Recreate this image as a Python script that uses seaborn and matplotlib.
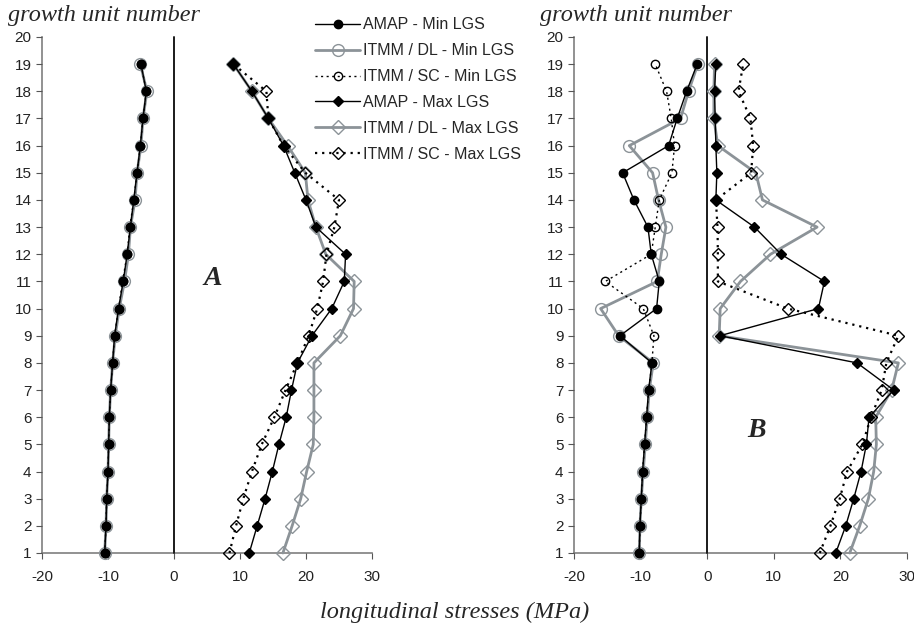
import numpy as np
import pandas as pd
import matplotlib
matplotlib.use("Agg")
import matplotlib.pyplot as plt
import seaborn as sns

# ---------------- data ----------------
rows = list(range(1, 20))  # growth unit number

# Panel A
A_amap_min = [-10.5, -10.3, -10.2, -10.0, -9.9, -9.8, -9.6, -9.3, -9.0, -8.4,
              -7.7, -7.1, -6.6, -6.1, -5.6, -5.1, -4.7, -4.2, -5.0]
A_dl_min = [-10.5, -10.3, -10.2, -10.0, -9.9, -9.8, -9.6, -9.3, -8.9, -8.3,
            -7.5, -6.9, -6.6, -5.9, -5.6, -5.0, -4.7, -4.1, -5.1]
A_sc_min = [-10.5, -10.3, -10.2, -10.0, -9.9, -9.8, -9.6, -9.3, -9.0, -8.4,
            -7.8, -7.1, -6.7, -6.1, -5.6, -5.1, -4.7, -4.2, -5.0]
A_amap_max = [11.4, 12.6, 13.8, 14.9, 15.9, 17.0, 17.8, 18.7, 20.9, 23.9,
              25.8, 26.0, 21.5, 20.0, 18.3, 16.6, 14.3, 11.8, 9.0]
A_dl_max = [16.5, 17.9, 19.2, 20.1, 21.1, 21.2, 21.2, 21.2, 25.2, 27.2,
            27.3, 23.0, 21.5, 20.3, 19.9, 17.2, 14.3, 11.8, 9.0]
A_sc_max = [8.4, 9.4, 10.5, 11.8, 13.3, 15.2, 16.9, 18.7, 20.4, 21.7,
            22.6, 23.1, 24.3, 25.0, 19.9, 16.6, 14.3, 14.0, 9.0]

# Panel B
B_amap_min = [-10.2, -10.1, -9.9, -9.7, -9.4, -9.1, -8.8, -8.3, -13.1, -7.6,
              -7.2, -8.4, -8.9, -11.0, -12.7, -5.8, -4.5, -3.1, -1.5]
B_dl_min = [-10.2, -10.1, -9.9, -9.6, -9.3, -9.0, -8.7, -8.1, -13.3, -16.0,
            -7.5, -6.9, -6.2, -7.3, -8.2, -11.7, -4.0, -2.8, -1.4]
B_sc_min = [-10.2, -10.1, -9.9, -9.7, -9.4, -9.1, -8.8, -8.3, -8.0, -9.6,
            -15.3, -8.4, -7.8, -7.2, -5.3, -4.9, -5.4, -6.1, -7.8]
B_amap_max = [19.3, 20.8, 22.0, 23.1, 23.9, 24.3, 28.0, 22.5, 1.9, 16.7,
              17.6, 11.1, 7.1, 1.3, 1.45, 1.3, 1.2, 1.1, 1.3]
B_dl_max = [21.4, 22.9, 24.2, 25.0, 25.4, 25.3, 27.7, 28.7, 1.8, 1.95,
            5.0, 9.5, 16.5, 8.3, 7.3, 1.6, 1.0, 1.0, 1.1]
B_sc_max = [16.9, 18.5, 19.9, 21.0, 23.3, 24.6, 26.2, 26.9, 28.7, 12.1,
            1.6, 1.6, 1.55, 1.3, 6.6, 6.9, 6.5, 4.7, 5.4]

labels = ["AMAP - Min LGS", "ITMM / DL - Min LGS", "ITMM / SC - Min LGS",
          "AMAP - Max LGS", "ITMM / DL - Max LGS", "ITMM / SC - Max LGS"]
x_ticks = [-20, -10, 0, 10, 20, 30]
y_ticks = list(range(1, 21))

# ---------------- style ----------------
sns.set_style("white")
plt.rcParams['font.family'] = ['Liberation Sans', 'DejaVu Sans']
plt.rcParams['axes.unicode_minus'] = False

GREY = "#8c9398"
styles = {
    "AMAP - Min LGS": dict(color="black", lw=1.0, ls="-", marker="o", ms=6,
                           mfc="black", mec="black", z=5),
    "ITMM / DL - Min LGS": dict(color=GREY, lw=2.0, ls="-", marker="o", ms=8.5,
                                mfc="none", mec=GREY, z=3),
    "ITMM / SC - Min LGS": dict(color="black", lw=1.0, ls=(0, (1.5, 2.5)), marker="o",
                                ms=6, mfc="none", mec="black", z=4),
    "AMAP - Max LGS": dict(color="black", lw=1.0, ls="-", marker="D", ms=5,
                           mfc="black", mec="black", z=5),
    "ITMM / DL - Max LGS": dict(color=GREY, lw=2.0, ls="-", marker="D", ms=7,
                                mfc="none", mec=GREY, z=3),
    "ITMM / SC - Max LGS": dict(color="black", lw=1.6, ls=(0, (1, 2.2)), marker="D",
                                ms=6, mfc="none", mec="black", z=4),
}

fig = plt.figure(figsize=(9.14, 6.32), dpi=100)
axA = fig.add_axes([42/914, 1-553/632, (372-42)/914, (553-37)/632])
axB = fig.add_axes([574/914, 1-553/632, (907-574)/914, (553-37)/632])

def draw(ax, series):
    for lab, vals in zip(labels, series):
        st = styles[lab]
        df = pd.DataFrame({"x": vals, "y": rows})
        sns.lineplot(data=df, x="x", y="y", orient="y", sort=False, estimator=None,
                     ax=ax, color=st["color"], linewidth=st["lw"], linestyle=st["ls"],
                     marker=st["marker"], markersize=st["ms"],
                     markerfacecolor=st["mfc"], markeredgecolor=st["mec"],
                     markeredgewidth=1.0, zorder=st["z"], label=lab)
    if ax.get_legend() is not None:
        ax.get_legend().remove()
    ax.axvline(0, color="#1a1a1a", lw=1.4, zorder=1)
    ax.set_xlim(-20, 30)
    ax.set_ylim(1, 20)
    ax.set_xticks(x_ticks)
    ax.set_yticks(y_ticks)
    ax.set_xlabel("")
    ax.set_ylabel("")
    for s in ["top", "right"]:
        ax.spines[s].set_visible(False)
    for s in ["left", "bottom"]:
        ax.spines[s].set_color("#7f7f7f")
        ax.spines[s].set_linewidth(1.2)
        ax.spines[s].set_zorder(0)
    ax.tick_params(axis="both", which="both", direction="out", length=4,
                   color="#555555", labelsize=11, labelcolor="#222222",
                   left=True, bottom=True)
    ax.tick_params(axis="x", pad=8)
    for ln in ax.lines:
        ln.set_clip_on(False)

draw(axA, [A_amap_min, A_dl_min, A_sc_min, A_amap_max, A_dl_max, A_sc_max])
draw(axB, [B_amap_min, B_dl_min, B_sc_min, B_amap_max, B_dl_max, B_sc_max])

serif = ['Liberation Serif', 'DejaVu Serif']
fig.text(8/914, 1-15/632, "growth unit number", family=serif, style="italic",
         fontsize=17.5, va="center", ha="left")
fig.text(540/914, 1-15/632, "growth unit number", family=serif, style="italic",
         fontsize=17.5, va="center", ha="left")
fig.text(455/914, 1-612/632, "longitudinal stresses (MPa)", family=serif, style="italic",
         fontsize=17.5, va="center", ha="center")

axA.text(5.8, 11.1, "A", family=serif, style="italic", weight="bold",
         fontsize=20, ha="center", va="center")
axB.text(7.4, 5.5, "B", family=serif, style="italic", weight="bold",
         fontsize=20, ha="center", va="center")

handles, labs = axA.get_legend_handles_labels()
fig.legend(handles[:6], labs[:6], loc="upper left", bbox_to_anchor=(309/914, 1-11/632),
           frameon=False, fontsize=11.5, handlelength=2.8, handletextpad=0.15,
           labelspacing=0.68, borderaxespad=0)

fig.savefig("out.png", dpi=100)
